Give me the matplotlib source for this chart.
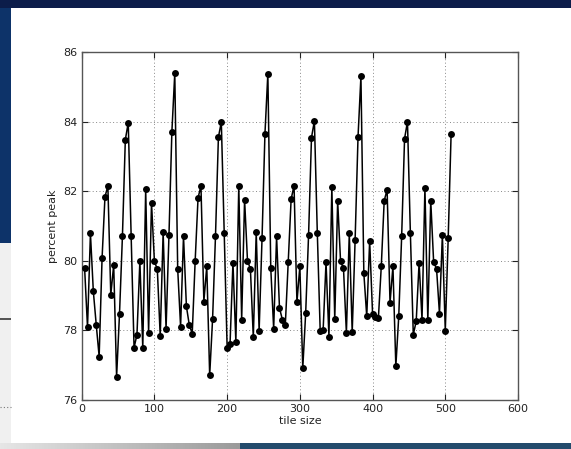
import matplotlib
matplotlib.use("Agg")
import matplotlib.pyplot as plt
from matplotlib.patches import Rectangle
import numpy as np

# tile sizes swept in steps of 4
tile_sizes = list(range(4, 512, 4))

# measured percent of peak throughput for each tile size
percent_peak = [
    79.79, 78.09, 80.79, 79.12, 78.16, 77.25, 80.07, 81.84, 82.15, 79.02,
    79.88, 76.67, 78.48, 80.70, 83.48, 83.97, 80.72, 77.50, 77.88, 79.98,
    77.50, 82.06, 77.93, 81.67, 79.98, 79.76, 77.83, 80.82, 78.05, 80.73,
    83.70, 85.39, 79.77, 78.11, 80.71, 78.69, 78.15, 77.91, 79.98, 81.81,
    82.15, 78.83, 79.84, 76.71, 78.33, 80.72, 83.55, 83.99, 80.79, 77.50,
    77.61, 79.95, 77.67, 82.15, 78.31, 81.76, 80.00, 79.77, 77.80, 80.82,
    77.99, 80.65, 83.65, 85.38, 79.79, 78.05, 80.70, 78.64, 78.31, 78.15,
    79.96, 81.77, 82.16, 78.81, 79.84, 76.91, 78.49, 80.74, 83.54, 84.02,
    80.81, 77.97, 78.00, 79.96, 77.82, 82.12, 78.32, 81.72, 79.98, 79.79,
    77.93, 80.79, 77.94, 80.60, 83.56, 85.30, 79.64, 78.40, 80.57, 78.48,
    78.38, 78.35, 79.85, 81.73, 82.04, 78.79, 79.84, 76.97, 78.40, 80.70,
    83.51, 84.00, 80.79, 77.88, 78.26, 79.95, 78.31, 82.10, 78.29, 81.73,
    79.96, 79.77, 78.48, 80.74, 77.99, 80.65, 83.64,
]

x_ticks = [0, 100, 200, 300, 400, 500, 600]
y_ticks = [76, 78, 80, 82, 84, 86]

W, H = 571, 449
fig = plt.figure(figsize=(W / 100, H / 100), dpi=100, facecolor="#0c1d4a")


def px_rect(x0, y0, x1, y1, **kw):
    """Rectangle given in pixel coordinates measured from the top-left."""
    r = Rectangle((x0 / W, 1 - y1 / H), (x1 - x0) / W, (y1 - y0) / H,
                  transform=fig.transFigure, figure=fig, zorder=-5, **kw)
    fig.patches.append(r)
    return r


# desktop surroundings
px_rect(0, 8, 11, 243, color="#0d3369", lw=0)
px_rect(0, 243, 11, 443, color="#f0f0f0", lw=0)
px_rect(0, 318, 11, 320, color="#555555", lw=0)
fig.add_artist(plt.Line2D([0, 11 / W], [1 - 407 / H] * 2, color="#777777",
                          lw=0.8, ls=(0, (1, 2)), transform=fig.transFigure,
                          zorder=-4))
grad = np.linspace(0, 1, 240)[None, :]
ax_bg = fig.add_axes([0, 0, 240 / W, 6 / H])
ax_bg.set_zorder(-3)
ax_bg.imshow(grad, aspect="auto", cmap=matplotlib.colors.LinearSegmentedColormap.from_list(
    "g", ["#e6e6e6", "#9a9a9a"]), extent=[0, 1, 0, 1])
ax_bg.set_axis_off()
px_rect(240, 443, 571, 449, color="#234b6c", lw=0)
# main figure window
px_rect(11, 8, 571, 443, color="white", lw=0)

ax = fig.add_axes([81.7 / W, 1 - 400 / H, (518 - 81.7) / W, (400 - 52) / H])
ax.set_zorder(5)
ax.plot(tile_sizes, percent_peak, "-o", color="black", lw=1.1,
        markersize=5, markeredgewidth=0, zorder=3)

ax.set_xlim(0, 600)
ax.set_ylim(76, 86)
ax.set_xticks(x_ticks)
ax.set_yticks(y_ticks)
ax.grid(True, color="#888888", ls=(0, (1, 2.5)), lw=0.7)
ax.tick_params(direction="in", length=4, top=True, right=True,
               labelsize=8, colors="#222222", pad=3)
for s in ax.spines.values():
    s.set_color("#555555")
    s.set_linewidth(1.0)
ax.set_xlabel("tile size", fontsize=8, color="#222222", labelpad=1)
ax.set_ylabel("percent peak", fontsize=8, color="#222222", labelpad=4)

fig.savefig("out.png", dpi=100, facecolor=fig.get_facecolor())
